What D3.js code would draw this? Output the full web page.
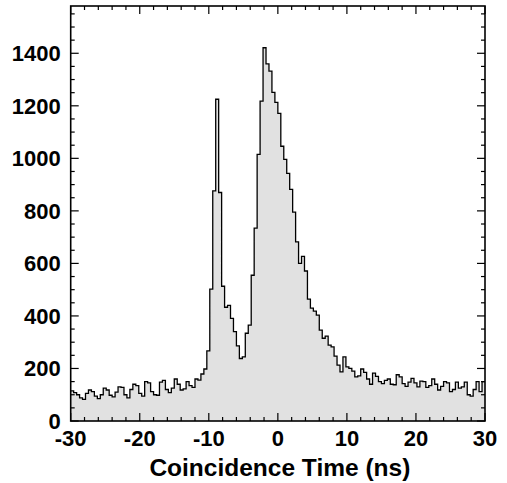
<!DOCTYPE html>
<html><head><meta charset="utf-8">
<script src="https://cdn.jsdelivr.net/npm/d3@7"></script>
<style>body{margin:0;background:#fff}text{font-family:"Liberation Sans",Arial,sans-serif;font-weight:bold}</style>
</head><body><svg id="c" width="507" height="483"></svg>
<script>
const xLabel = "Coincidence Time (ns)";
const xDomain = [-30, 30];
const yDomain = [0, 1580];
const xTicks = [-30, -20, -10, 0, 10, 20, 30];
const yTicks = [0, 200, 400, 600, 800, 1000, 1200, 1400];
const binStart = -30;
const binWidth = 60 / 140;
const counts = [
  115,108,100,88,82,105,118,112,95,85,100,125,118,98,92,110,130,128,100,88,
  120,140,135,105,95,150,145,112,100,98,148,155,120,108,125,160,140,118,122,150,
  135,128,160,156,179,198,267,
  502,876,1225,870,513,433,440,391,340,286,238,244,334,365,555,734,1015,1218,1421,
  1360,1332,1251,1213,1171,1046,996,943,882,795,682,600,627,571,464,430,418,403,
  346,315,323,289,282,247,213,187,244,206,
  200,190,168,172,198,185,160,140,182,170,150,142,155,160,140,138,176,168,142,132,
  148,162,145,130,152,150,128,135,160,140,118,132,150,145,112,120,148,125,130,148,
  100,95,120,150,112,150
];

const m = {l: 70.7, r: 485, t: 6, b: 421};
const svg = d3.select("#c");
const x = d3.scaleLinear().domain(xDomain).range([m.l, m.r]);
const y = d3.scaleLinear().domain(yDomain).range([m.b, m.t]);

const pts = counts.map((v, i) => ({t: binStart + i * binWidth, v}));
pts.push({t: binStart + counts.length * binWidth, v: counts[counts.length - 1]});

svg.append("path")
  .attr("d", d3.area().curve(d3.curveStepAfter).x(d => x(d.t)).y0(y(0)).y1(d => y(d.v))(pts))
  .attr("fill", "#e1e1e1");
svg.append("path")
  .attr("d", d3.line().curve(d3.curveStepAfter).x(d => x(d.t)).y(d => y(d.v))(pts))
  .attr("fill", "none").attr("stroke", "#000").attr("stroke-width", 1.3);

const minorX = d3.range(xDomain[0], xDomain[1] + 0.001, 2);
const minorY = d3.range(0, yDomain[1], 50);
const g = svg.append("g").attr("stroke", "#000").attr("stroke-width", 1.2);
g.append("rect").attr("x", m.l).attr("y", m.t).attr("width", m.r - m.l).attr("height", m.b - m.t)
  .attr("fill", "none").attr("stroke-width", 1.6);
minorX.forEach(v => {
  const L = (v % 10 === 0) ? 8 : 4;
  g.append("line").attr("x1", x(v)).attr("x2", x(v)).attr("y1", m.b).attr("y2", m.b - L);
  g.append("line").attr("x1", x(v)).attr("x2", x(v)).attr("y1", m.t).attr("y2", m.t + L);
});
minorY.forEach(v => {
  const L = (v % 200 === 0) ? 8 : 4;
  g.append("line").attr("y1", y(v)).attr("y2", y(v)).attr("x1", m.l).attr("x2", m.l + L);
  g.append("line").attr("y1", y(v)).attr("y2", y(v)).attr("x1", m.r).attr("x2", m.r - L);
});

svg.append("g").selectAll("text").data(xTicks).join("text")
  .attr("x", d => x(d)).attr("y", m.b + 25).attr("text-anchor", "middle")
  .attr("font-size", 22).text(d => d);
svg.append("g").selectAll("text").data(yTicks).join("text")
  .attr("x", m.l - 10).attr("y", d => y(d) + 8).attr("text-anchor", "end")
  .attr("font-size", 22).text(d => d);
svg.append("text").attr("x", (m.l + m.r) / 2 + 2).attr("y", 476).attr("text-anchor", "middle")
  .attr("font-size", 24.5).text(xLabel);
</script></body></html>
